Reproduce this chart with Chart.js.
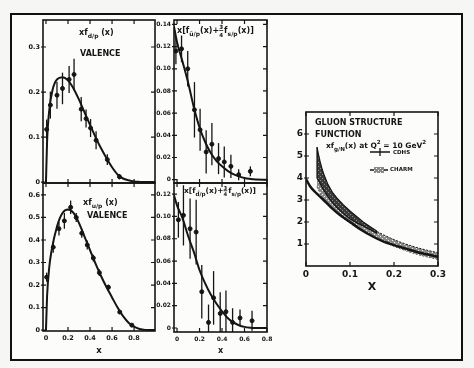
<!DOCTYPE html>
<html>
<head>
<meta charset="utf-8">
<script src="https://cdn.jsdelivr.net/npm/chart.js@4.4.1/dist/chart.umd.min.js"></script>
<style>
  body { margin: 0; background: #f6f6f4; }
  #page { position: relative; width: 474px; height: 368px; overflow: hidden; }
  #frame { position: absolute; left: 10px; top: 13px; width: 449px; height: 344px; border: 2px solid #111; background: #fcfcfb; }
  canvas { position: absolute; left: 0; top: 0; }
</style>
</head>
<body>
<div id="page">
  <div id="frame"></div>
  <canvas id="c1" width="474" height="368"></canvas>
  <canvas id="c2" width="474" height="368"></canvas>
  <canvas id="c3" width="474" height="368"></canvas>
  <canvas id="c4" width="474" height="368"></canvas>
  <canvas id="c5" width="474" height="368"></canvas>
</div>
<script>
// d valence (top left)
const p1X = [0.006, 0.04, 0.10, 0.15, 0.21, 0.255, 0.32, 0.364, 0.405, 0.455, 0.557, 0.667];
const p1Y = [0.117, 0.171, 0.193, 0.208, 0.228, 0.239, 0.162, 0.141, 0.12, 0.093, 0.05, 0.012];
const p1Err = [0.022, 0.03, 0.03, 0.035, 0.03, 0.035, 0.027, 0.02, 0.02, 0.02, 0.012, 0.006];
const p1CurveX = [0, 0.01, 0.03, 0.06, 0.1, 0.15, 0.2, 0.25, 0.3, 0.35, 0.4, 0.45, 0.5, 0.55, 0.6, 0.65, 0.7, 0.75, 0.8, 0.85, 0.9, 0.99];
const p1CurveY = [0, 0.09, 0.16, 0.205, 0.228, 0.233, 0.226, 0.208, 0.183, 0.155, 0.127, 0.10, 0.075, 0.053, 0.033, 0.017, 0.008, 0.004, 0.0015, 0.0005, 0, 0];

// u valence (bottom left)
const p2X = [0.006, 0.066, 0.118, 0.167, 0.224, 0.275, 0.325, 0.375, 0.43, 0.485, 0.567, 0.67, 0.78];
const p2Y = [0.235, 0.368, 0.45, 0.485, 0.545, 0.5, 0.43, 0.378, 0.32, 0.255, 0.19, 0.08, 0.022];
const p2Err = [0.02, 0.025, 0.03, 0.035, 0.03, 0.02, 0.02, 0.02, 0.015, 0.015, 0.012, 0.008, 0.006];
const p2CurveX = [0, 0.01, 0.03, 0.05, 0.1, 0.15, 0.2, 0.25, 0.3, 0.35, 0.4, 0.45, 0.5, 0.55, 0.6, 0.65, 0.7, 0.75, 0.8, 0.85, 0.9, 0.99];
const p2CurveY = [0, 0.15, 0.28, 0.35, 0.46, 0.52, 0.535, 0.52, 0.475, 0.415, 0.355, 0.295, 0.24, 0.19, 0.145, 0.10, 0.062, 0.033, 0.015, 0.005, 0.001, 0];

// ubar + 3/4 s (top middle)
const p3X = [-0.01, 0.04, 0.095, 0.155, 0.205, 0.259, 0.31, 0.369, 0.42, 0.479, 0.548, 0.652];
const p3Y = [0.116, 0.118, 0.1, 0.063, 0.045, 0.025, 0.032, 0.019, 0.016, 0.012, 0.0045, 0.0075];
const p3Err = [0.012, 0.012, 0.016, 0.025, 0.019, 0.0195, 0.019, 0.014, 0.014, 0.0105, 0.005, 0.0045];
const p3CurveX = [-0.027, 0, 0.05, 0.1, 0.15, 0.2, 0.25, 0.3, 0.35, 0.4, 0.45, 0.5, 0.55, 0.6, 0.65, 0.7, 0.8];
const p3CurveY = [0.138, 0.124, 0.106, 0.087, 0.065, 0.047, 0.034, 0.024, 0.017, 0.012, 0.008, 0.005, 0.003, 0.0015, 0.0007, 0.0002, 0];

// dbar + 3/4 s (bottom middle)
const p4X = [0.012, 0.057, 0.116, 0.17, 0.22, 0.28, 0.325, 0.384, 0.435, 0.494, 0.56, 0.667];
const p4Y = [0.097, 0.101, 0.089, 0.086, 0.0325, 0.005, 0.027, 0.013, 0.0146, 0.005, 0.009, 0.0065];
const p4Err = [0.016, 0.027, 0.027, 0.029, 0.024, 0.016, 0.024, 0.019, 0.019, 0.0127, 0.0075, 0.009];
const p4CurveX = [-0.027, 0, 0.05, 0.1, 0.15, 0.2, 0.25, 0.3, 0.35, 0.4, 0.45, 0.5, 0.55, 0.6, 0.65, 0.7, 0.8];
const p4CurveY = [0.119, 0.11, 0.098, 0.082, 0.068, 0.052, 0.04, 0.03, 0.022, 0.015, 0.009, 0.005, 0.0025, 0.001, 0.0003, 0, 0];

// gluon (right)
const p5LineX = [0, 0.01, 0.024, 0.04, 0.055, 0.075, 0.1, 0.125, 0.153, 0.175, 0.2, 0.225, 0.25, 0.275, 0.3];
const p5LineY = [3.95, 3.6, 3.3, 3.0, 2.7, 2.35, 2.0, 1.65, 1.33, 1.12, 0.95, 0.8, 0.65, 0.53, 0.42];
const charmX = [0.025, 0.03, 0.04, 0.06, 0.08, 0.1, 0.15, 0.2, 0.25, 0.3];
const charmHigh = [5.4, 4.7, 4.1, 3.3, 2.8, 2.4, 1.7, 1.2, 0.85, 0.6];
const charmLow = [3.6, 3.4, 3.0, 2.6, 2.25, 1.95, 1.35, 0.9, 0.55, 0.3];
const cdhsX = [0.025, 0.028, 0.032, 0.036, 0.04, 0.045, 0.05, 0.06, 0.07, 0.085, 0.1, 0.115, 0.13, 0.145, 0.16];
const cdhsHigh = [5.4, 5.1, 4.75, 4.45, 4.2, 3.95, 3.7, 3.35, 3.1, 2.78, 2.5, 2.25, 2.0, 1.8, 1.6];
const cdhsLow = [4.0, 3.9, 3.75, 3.6, 3.45, 3.3, 3.15, 2.88, 2.65, 2.38, 2.15, 1.97, 1.82, 1.66, 1.5];

const leftYTicks = [0, 0.1, 0.2, 0.3];
const left2YTicks = [0, 0.1, 0.2, 0.3, 0.4, 0.5, 0.6];
const midYTicks = [0, 0.02, 0.04, 0.06, 0.08, 0.10, 0.12, 0.14];
const mid2YTicks = [0, 0.02, 0.04, 0.06, 0.08, 0.10, 0.12];
const xTicks = [0, 0.2, 0.4, 0.6, 0.8];
const gluonYTicks = [1, 2, 3, 4, 5, 6];
const gluonXTicks = [0, 0.1, 0.2, 0.3];

const FONT = 'DejaVu Sans';
const INK = '#151515';

function pts(xs, ys) {
    return xs.map((x, i) => ({ x: x, y: ys[i] }));
}

function richText(ctx, x, y, parts, size) {
    let cx = x;
    ctx.textBaseline = 'alphabetic';
    ctx.textAlign = 'left';
    parts.forEach(p => {
        const t = p[0], mode = p[1];
        if (mode === 'sub') {
            ctx.font = `bold ${size * 0.75}px ${FONT}`;
            ctx.fillText(t, cx, y + size * 0.35);
            cx += ctx.measureText(t).width;
        } else if (mode === 'sup') {
            ctx.font = `bold ${size * 0.75}px ${FONT}`;
            ctx.fillText(t, cx, y - size * 0.5);
            cx += ctx.measureText(t).width;
        } else if (mode === 'frac') {
            const ab = t.split('/');
            ctx.font = `bold ${size * 0.7}px ${FONT}`;
            const w = Math.max(ctx.measureText(ab[0]).width, ctx.measureText(ab[1]).width);
            ctx.textAlign = 'center';
            ctx.fillText(ab[0], cx + w / 2, y - size * 0.45);
            ctx.fillText(ab[1], cx + w / 2, y + size * 0.45);
            ctx.fillRect(cx, y - size * 0.35, w, 0.8);
            ctx.textAlign = 'left';
            cx += w + 1;
        } else {
            ctx.font = `bold ${size}px ${FONT}`;
            ctx.fillText(t, cx, y);
            cx += ctx.measureText(t).width;
        }
    });
}

// axes box, inward ticks, labels and titles
function panelPlugin(cfg) {
    return {
        id: 'panel',
        afterDatasetsDraw(chart) {
            if (cfg.overlay) cfg.overlay(chart);
        },
        afterDraw(chart) {
            const ctx = chart.ctx;
            const a = chart.chartArea;
            const xs = chart.scales.x, ys = chart.scales.y;
            ctx.save();
            ctx.strokeStyle = INK;
            ctx.fillStyle = INK;
            ctx.lineWidth = 1.6;
            ctx.strokeRect(a.left, a.top, a.right - a.left, a.bottom - a.top);
            ctx.lineWidth = 1.2;
            ctx.beginPath();
            cfg.xTicks.forEach(v => {
                const px = xs.getPixelForValue(v);
                ctx.moveTo(px, a.bottom); ctx.lineTo(px, a.bottom - 4);
                ctx.moveTo(px, a.top); ctx.lineTo(px, a.top + 4);
            });
            cfg.yTicks.forEach(v => {
                const py = ys.getPixelForValue(v);
                ctx.moveTo(a.left - 2, py); ctx.lineTo(a.left + 3, py);
                ctx.moveTo(a.right, py); ctx.lineTo(a.right - 4, py);
            });
            ctx.stroke();

            ctx.font = `bold ${cfg.tickSize}px ${FONT}`;
            ctx.textAlign = 'right';
            ctx.textBaseline = 'middle';
            cfg.yTicks.forEach((v, i) => {
                ctx.fillText(cfg.yLabels[i], a.left - 3, ys.getPixelForValue(v));
            });
            if (cfg.xLabels) {
                ctx.textAlign = 'center';
                ctx.textBaseline = 'top';
                cfg.xTicks.forEach((v, i) => {
                    ctx.fillText(cfg.xLabels[i], xs.getPixelForValue(v), a.bottom + 4);
                });
            }
            if (cfg.xTitle) {
                ctx.font = `bold ${cfg.tickSize + 2}px ${FONT}`;
                ctx.textAlign = 'center';
                ctx.textBaseline = 'top';
                ctx.fillText(cfg.xTitle, (a.left + a.right) / 2, a.bottom + cfg.xTitleGap);
            }
            (cfg.texts || []).forEach(t => {
                richText(ctx, a.left + t.dx, a.top + t.dy, t.parts, t.size);
            });
            if (cfg.extra) cfg.extra(ctx, a);
            ctx.restore();
        }
    };
}

// vertical error bars read from the dataset's errs array
const errorBarPlugin = {
    id: 'errbars',
    afterDatasetsDraw(chart) {
        const ctx = chart.ctx;
        const a = chart.chartArea;
        const ys = chart.scales.y;
        ctx.save();
        ctx.beginPath();
        ctx.rect(a.left, a.top, a.right - a.left, a.bottom - a.top);
        ctx.clip();
        ctx.strokeStyle = INK;
        ctx.lineWidth = 1.3;
        chart.data.datasets.forEach((ds, i) => {
            if (!ds.errs) return;
            const meta = chart.getDatasetMeta(i);
            meta.data.forEach((el, j) => {
                const v = ds.data[j].y, e = ds.errs[j];
                ctx.beginPath();
                ctx.moveTo(el.x, ys.getPixelForValue(v - e));
                ctx.lineTo(el.x, ys.getPixelForValue(v + e));
                ctx.stroke();
            });
        });
        ctx.restore();
    }
};

function pointsSet(xs, ys, errs) {
    return {
        data: pts(xs, ys),
        errs: errs,
        pointRadius: 2,
        pointBackgroundColor: INK,
        pointBorderColor: INK,
        showLine: false
    };
}

function curveSet(xs, ys) {
    return {
        data: pts(xs, ys),
        showLine: true,
        pointRadius: 0,
        borderColor: INK,
        borderWidth: 2,
        cubicInterpolationMode: 'monotone'
    };
}

function makePanel(id, area, xRange, yRange, datasets, cfg) {
    new Chart(document.getElementById(id), {
        type: 'scatter',
        data: { datasets: datasets },
        options: {
            responsive: false,
            animation: false,
            devicePixelRatio: 1,
            layout: { padding: { left: area[0], top: area[1], right: 474 - area[2], bottom: 368 - area[3] } },
            plugins: { legend: { display: false }, tooltip: { enabled: false } },
            scales: {
                x: { type: 'linear', min: xRange[0], max: xRange[1], display: false },
                y: { type: 'linear', min: yRange[0], max: yRange[1], display: false }
            }
        },
        plugins: [errorBarPlugin, panelPlugin(cfg)]
    });
}

makePanel('c1', [43, 20, 155, 183], [-0.027, 0.99], [-0.002, 0.36],
    [curveSet(p1CurveX, p1CurveY), pointsSet(p1X, p1Y, p1Err)],
    {
        xTicks: xTicks, yTicks: leftYTicks, yLabels: ['0', '0.1', '0.2', '0.3'], tickSize: 6.5,
        texts: [
            { dx: 36, dy: 15, size: 8, parts: [['xf', ''], ['d/p', 'sub'], [' (x)', '']] },
            { dx: 37, dy: 36, size: 8, parts: [['VALENCE', '']] }
        ]
    });

makePanel('c2', [43, 183, 155, 331], [-0.027, 0.99], [-0.004, 0.653],
    [curveSet(p2CurveX, p2CurveY), pointsSet(p2X, p2Y, p2Err)],
    {
        xTicks: xTicks, yTicks: left2YTicks, yLabels: ['0', '0.1', '0.2', '0.3', '0.4', '0.5', '0.6'], tickSize: 6.5,
        xLabels: ['0', '0.2', '0.4', '0.6', '0.8'], xTitle: 'x', xTitleGap: 16,
        texts: [
            { dx: 40, dy: 22, size: 8, parts: [['xf', ''], ['u/p', 'sub'], [' (x)', '']] },
            { dx: 44, dy: 35, size: 8, parts: [['VALENCE', '']] }
        ]
    });

makePanel('c3', [174, 20, 267, 183], [-0.027, 0.8], [-0.003, 0.144],
    [curveSet(p3CurveX, p3CurveY), pointsSet(p3X, p3Y, p3Err)],
    {
        xTicks: xTicks, yTicks: midYTicks, yLabels: ['0', '0.02', '0.04', '0.06', '0.08', '0.10', '0.12', '0.14'], tickSize: 6,
        texts: [
            { dx: 3, dy: 13, size: 8, parts: [['x[f', ''], ['ū/p', 'sub'], ['(x)+', ''], ['3/4', 'frac'], ['f', ''], ['s/p', 'sub'], ['(x)]', '']] }
        ]
    });

makePanel('c4', [174, 183, 267, 332], [-0.027, 0.8], [-0.0036, 0.13],
    [curveSet(p4CurveX, p4CurveY), pointsSet(p4X, p4Y, p4Err)],
    {
        xTicks: xTicks, yTicks: mid2YTicks, yLabels: ['0', '0.02', '0.04', '0.06', '0.08', '0.10', '0.12'], tickSize: 6,
        xLabels: ['0', '0.2', '0.4', '0.6', '0.8'], xTitle: 'x', xTitleGap: 15,
        texts: [
            { dx: 10, dy: 10, size: 7.5, parts: [['x[f', ''], ['d̄/p', 'sub'], ['(x)+', ''], ['3/4', 'frac'], ['f', ''], ['s/p', 'sub'], ['(x)]', '']] }
        ]
    });

// speckled fills for the two bands
function speckle(bg, dot) {
    const c = document.createElement('canvas');
    c.width = 4; c.height = 4;
    const g = c.getContext('2d');
    g.fillStyle = bg; g.fillRect(0, 0, 4, 4);
    g.fillStyle = dot; g.fillRect(0, 0, 1, 1); g.fillRect(2, 2, 1, 1);
    return g.createPattern(c, 'repeat');
}
const charmFill = speckle('#8a8a8a', '#eeeeee');
const cdhsFill = speckle('#3a3a3a', '#8c8c8c');

function bandEdge(xs, ys, fill, bg) {
    return {
        data: pts(xs, ys),
        showLine: true,
        pointRadius: 0,
        borderColor: INK,
        borderWidth: 1,
        borderDash: [2, 1.5],
        fill: fill,
        backgroundColor: bg,
        cubicInterpolationMode: 'monotone'
    };
}

makePanel('c5', [306, 112, 438, 266], [0, 0.3], [0, 7],
    [
        Object.assign(curveSet(p5LineX, p5LineY), { borderWidth: 2.5 }),
        bandEdge(charmX, charmHigh, '+1', charmFill),
        bandEdge(charmX, charmLow, false, charmFill)
    ],
    {
        xTicks: gluonXTicks, yTicks: gluonYTicks, yLabels: ['1', '2', '3', '4', '5', '6'], tickSize: 9,
        xLabels: ['0', '0.1', '0.2', '0.3'], xTitle: 'X', xTitleGap: 16,
        overlay(chart) {
            // dark CDHS band, placed on the chart through its scales
            const ctx = chart.ctx;
            const xs = chart.scales.x, ys = chart.scales.y;
            ctx.save();
            ctx.beginPath();
            cdhsX.forEach((x, i) => {
                const px = xs.getPixelForValue(x), py = ys.getPixelForValue(cdhsHigh[i]);
                if (i === 0) ctx.moveTo(px, py); else ctx.lineTo(px, py);
            });
            for (let i = cdhsX.length - 1; i >= 0; i--) {
                ctx.lineTo(xs.getPixelForValue(cdhsX[i]), ys.getPixelForValue(cdhsLow[i]));
            }
            ctx.closePath();
            ctx.fillStyle = cdhsFill;
            ctx.fill();
            ctx.strokeStyle = INK;
            ctx.lineWidth = 1.2;
            ctx.stroke();
            ctx.restore();
        },
        texts: [
            { dx: 9, dy: 13, size: 8, parts: [['GLUON STRUCTURE', '']] },
            { dx: 9, dy: 25, size: 8, parts: [['FUNCTION', '']] },
            { dx: 20, dy: 36, size: 7.5, parts: [['xf', ''], ['g/N', 'sub'], ['(x) at Q', ''], ['2', 'sup'], [' = 10 GeV', ''], ['2', 'sup']] }
        ],
        extra(ctx, a) {
            // legend marks
            ctx.lineWidth = 1.3;
            ctx.beginPath();
            ctx.moveTo(a.left + 64, a.top + 40); ctx.lineTo(a.left + 84, a.top + 40);
            ctx.moveTo(a.left + 74, a.top + 36); ctx.lineTo(a.left + 74, a.top + 44);
            ctx.moveTo(a.left + 64, a.top + 58); ctx.lineTo(a.left + 68, a.top + 58);
            ctx.moveTo(a.left + 78, a.top + 58); ctx.lineTo(a.left + 82, a.top + 58);
            ctx.stroke();
            ctx.fillStyle = charmFill;
            ctx.fillRect(a.left + 68, a.top + 55, 10, 6);
            ctx.fillStyle = INK;
            ctx.font = `bold 5.5px ${FONT}`;
            ctx.textAlign = 'left';
            ctx.textBaseline = 'middle';
            ctx.fillText('CDHS', a.left + 87, a.top + 41);
            ctx.fillText('CHARM', a.left + 84, a.top + 58);
        }
    });
</script>
</body>
</html>
